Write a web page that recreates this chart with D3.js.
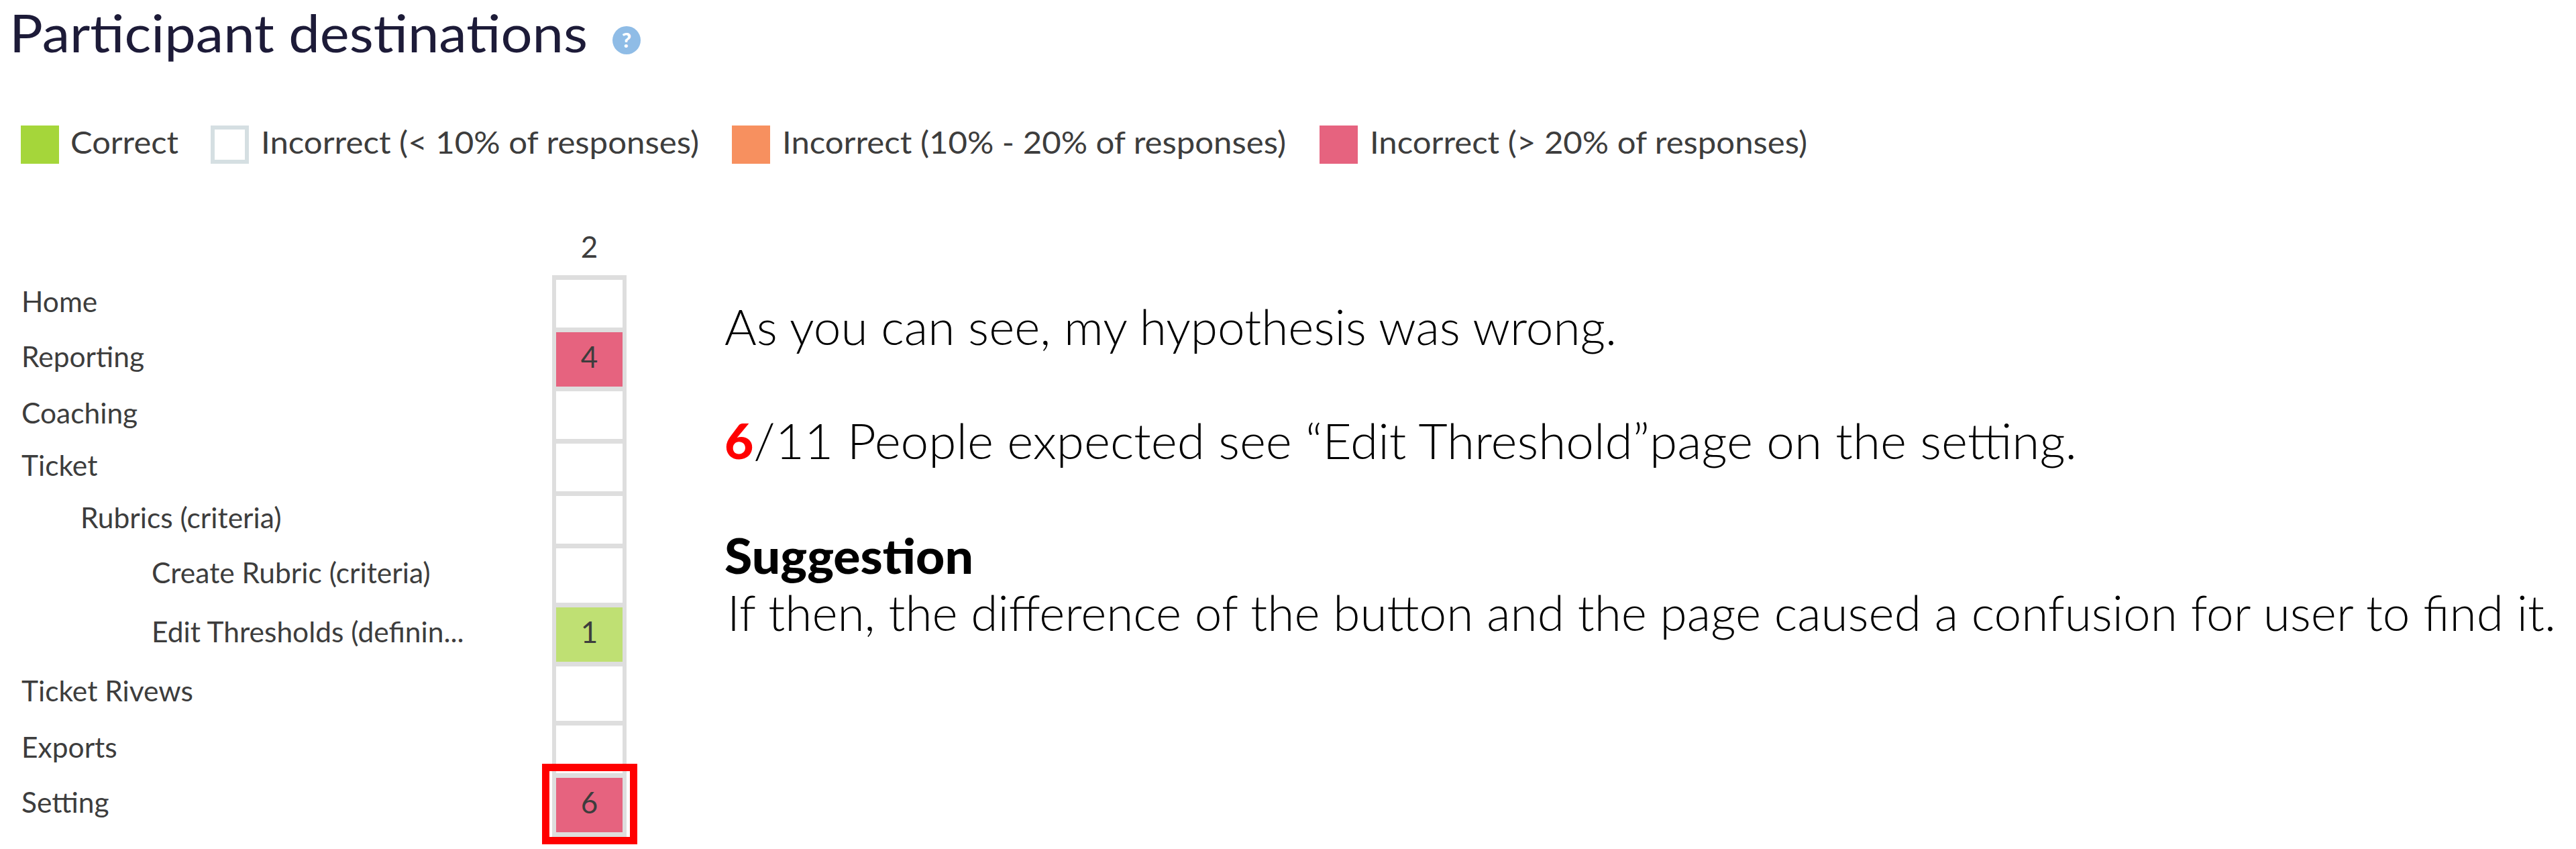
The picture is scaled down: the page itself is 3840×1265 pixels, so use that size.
<!DOCTYPE html>
<html>
<head>
<meta charset="utf-8">
<title>Participant destinations</title>
<script src="https://cdn.jsdelivr.net/npm/d3@7"></script>
<style>
	html, body { margin: 0; padding: 0; background: #fff; }
	svg { display: block; }
	text { font-family: Lato, sans-serif; }
</style>
</head>
<body>
<div id="graphic"></div>
<script>
// chart data
var categories = ['Home', 'Reporting', 'Coaching', 'Ticket', 'Rubrics (criteria)', 'Create Rubric (criteria)', 'Edit Thresholds (definin...', 'Ticket Rivews', 'Exports', 'Setting'];
var depths = [0, 0, 0, 0, 1, 2, 2, 0, 0, 0];
var columns = ['2'];
var values = [null, 4, null, null, null, null, 1, null, null, 6];
var correctCategory = 'Edit Thresholds (definin...';
var legendLabels = ['Correct', 'Incorrect (< 10% of responses)', 'Incorrect (10% - 20% of responses)', 'Incorrect (> 20% of responses)'];
var legendColours = ['#a5d63a', '#ffffff', '#f7905f', '#e6637f'];
var highlighted = 'Setting';

// layout
var width = 3840, height = 1265;
// rows in the source are not evenly tall
var tallRows = ['Reporting', 'Create Rubric (criteria)', 'Edit Thresholds (definin...', 'Ticket Rivews', 'Setting'];
var rowH = (d) => (tallRows.includes(d) ? 81 : 71);
var rowGap = 7;
var firstRowTop = 417;

var svg = d3.select('#graphic')
	.append('svg')
	.attr('width', width)
	.attr('height', height)
	.style('background-color', '#fff');

// title
svg.append('text')
	.attr('x', 14)
	.attr('y', 78)
	.attr('font-size', 78)
	.attr('fill', '#1d1b38')
	.attr('textLength', 862)
	.attr('lengthAdjust', 'spacingAndGlyphs')
	.text('Participant destinations');

var help = svg.append('g').attr('transform', 'translate(934,60)');
help.append('circle').attr('r', 21).attr('fill', '#8fbce6');
help.append('text')
	.attr('text-anchor', 'middle')
	.attr('y', 11)
	.attr('font-size', 31)
	.attr('font-weight', 900)
	.attr('fill', '#fff')
	.text('?');

// legend
var legendX = d3.scaleOrdinal().domain(legendLabels).range([31, 314, 1091, 1967]);
var legendTextW = d3.scaleOrdinal().domain(legendLabels).range([161, 653, 751, 652]);

var legend = svg.append('g')
	.selectAll('g')
	.data(legendLabels)
	.join('g')
	.attr('transform', (d) => 'translate(' + legendX(d) + ',187)');

legend.append('rect')
	.attr('x', (d, i) => (i == 1 ? 3 : 0))
	.attr('y', (d, i) => (i == 1 ? 3 : 0))
	.attr('width', (d, i) => (i == 1 ? 51 : 57))
	.attr('height', (d, i) => (i == 1 ? 51 : 57))
	.attr('fill', (d, i) => legendColours[i])
	.attr('stroke', (d, i) => (i == 1 ? '#d5dfe2' : 'none'))
	.attr('stroke-width', 6);

legend.append('text')
	.attr('x', (d, i) => (i == 0 ? 74 : 75))
	.attr('y', 42)
	.attr('font-size', 46)
	.attr('fill', '#3d3d3d')
	.attr('textLength', (d) => legendTextW(d))
	.attr('lengthAdjust', 'spacingAndGlyphs')
	.text((d) => d);

// scales
var tops = [];
categories.forEach((d, i) => {
	tops.push(i == 0 ? firstRowTop : tops[i - 1] + rowH(categories[i - 1]) + rowGap);
});
var y = d3.scaleOrdinal().domain(categories).range(tops);
var x = d3.scaleBand().domain(columns).range([829, 928]);
var labelX = d3.scaleOrdinal().domain([0, 1, 2]).range([32, 120, 226]);

var colour = d3.scaleThreshold()
	.domain([0.1, 0.2])
	.range([legendColours[1], legendColours[2], legendColours[3]]);
var total = d3.sum(values);

var rows = categories.map((d, i) => ({ name: d, depth: depths[i], value: values[i] }));

// column header
svg.append('g')
	.selectAll('text')
	.data(columns)
	.join('text')
	.attr('x', (d) => x(d) + x.bandwidth() / 2)
	.attr('y', 384)
	.attr('text-anchor', 'middle')
	.attr('font-size', 44)
	.attr('fill', '#3d3d3d')
	.text((d) => d);

// grey track behind the cells
svg.append('rect')
	.attr('x', x(columns[0]) - 6)
	.attr('y', firstRowTop - rowGap)
	.attr('width', x.bandwidth() + 12)
	.attr('height', y(highlighted) + rowH(highlighted) + rowGap - firstRowTop + rowGap)
	.attr('fill', '#dedede');

// cells
svg.append('g')
	.selectAll('rect')
	.data(rows)
	.join('rect')
	.attr('x', x(columns[0]))
	.attr('y', (d) => y(d.name))
	.attr('width', x.bandwidth())
	.attr('height', (d) => rowH(d.name))
	.attr('fill', (d) => {
		if (d.value === null) return '#fff';
		if (d.name == correctCategory) return '#bfe073';
		return colour(d.value / total);
	});

svg.append('g')
	.selectAll('text')
	.data(rows.filter((d) => d.value !== null))
	.join('text')
	.attr('x', x(columns[0]) + x.bandwidth() / 2)
	.attr('y', (d) => y(d.name) + 53)
	.attr('text-anchor', 'middle')
	.attr('font-size', 44)
	.attr('fill', '#3d3d3d')
	.text((d) => d.value);

// row labels
svg.append('g')
	.selectAll('text')
	.data(rows)
	.join('text')
	.attr('x', (d) => labelX(d.depth))
	.attr('y', (d) => y(d.name) + (tallRows.includes(d.name) ? 52 : 48))
	.attr('font-size', 42.5)
	.attr('fill', '#3d3d3d')
	.text((d) => d.name);

// red box round the last row
svg.append('rect')
	.attr('x', 813.5)
	.attr('y', 1143.5)
	.attr('width', 131)
	.attr('height', 109)
	.attr('fill', 'none')
	.attr('stroke', '#ff0000')
	.attr('stroke-width', 11);

// notes on the right
var notes = svg.append('g').attr('fill', '#000');

notes.append('text')
	.attr('x', 1080)
	.attr('y', 514)
	.attr('font-size', 73)
	.attr('font-weight', 300)
	.attr('textLength', 1330)
	.attr('lengthAdjust', 'spacingAndGlyphs')
	.text('As you can see, my hypothesis was wrong.');

var line2 = notes.append('text')
	.attr('x', 1080)
	.attr('y', 684)
	.attr('font-size', 73)
	.attr('font-weight', 300)
	.attr('textLength', 2016)
	.attr('lengthAdjust', 'spacingAndGlyphs');
line2.append('tspan').attr('fill', '#ff0000').attr('font-weight', 900).text('6');
line2.append('tspan').text('/11 People expected see “Edit Threshold”page on the setting.');

notes.append('text')
	.attr('x', 1080)
	.attr('y', 855)
	.attr('font-size', 73)
	.attr('font-weight', 900)
	.attr('textLength', 371)
	.attr('lengthAdjust', 'spacingAndGlyphs')
	.text('Suggestion');

notes.append('text')
	.attr('x', 1084)
	.attr('y', 940)
	.attr('font-size', 73)
	.attr('font-weight', 300)
	.attr('textLength', 2726)
	.attr('lengthAdjust', 'spacingAndGlyphs')
	.text('If then, the difference of the button and the page caused a confusion for user to find it.');
</script>
</body>
</html>
